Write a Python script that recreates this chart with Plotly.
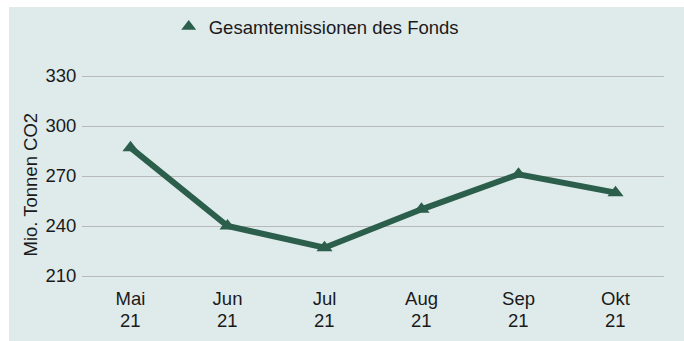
import plotly.graph_objects as go

months = ["Mai", "Jun", "Jul", "Aug", "Sep", "Okt"]
years = ["21", "21", "21", "21", "21", "21"]
emissions = [287, 240, 227, 250, 271, 260]
y_ticks = [210, 240, 270, 300, 330]

series_name = "Gesamtemissionen des Fonds"
y_title = "Mio. Tonnen CO2"
line_color = "#2b5e4b"
panel_color = "#dfeaea"
font_family = "Liberation Sans, Arial, Helvetica, sans-serif"
font_size = 18.5

fig = go.Figure()

# the emissions line itself
fig.add_trace(go.Scatter(
    x=months,
    y=emissions,
    mode="lines+markers",
    name=series_name,
    showlegend=False,
    line=dict(color=line_color, width=6),
    marker=dict(symbol="triangle-up", size=14, color=line_color),
))

# legend entry shows the triangle symbol only
fig.add_trace(go.Scatter(
    x=[None], y=[None],
    mode="markers",
    name=series_name,
    marker=dict(symbol="triangle-up", size=13, color=line_color),
))

# second row of category labels (year under each month)
for m, yr in zip(months, years):
    fig.add_annotation(
        x=m, xref="x", y=-0.2015, yref="paper",
        text=yr, showarrow=False, yanchor="middle", xanchor="center",
        font=dict(size=font_size, family=font_family, color="#1a1a1a"),
    )

# vertical axis title
fig.add_annotation(
    x=-0.0893, xref="paper", y=0.4587, yref="paper",
    text=y_title, textangle=-90, showarrow=False,
    xanchor="center", yanchor="middle",
    font=dict(size=font_size, family=font_family, color="#1a1a1a"),
)

# light panel behind the whole chart, leaving a thin white edge top and left
fig.add_shape(
    type="rect", xref="paper", yref="paper",
    x0=-0.1254, x1=1.05, y0=-0.4, y1=1.3204,
    fillcolor=panel_color, line=dict(width=0), layer="below",
)

fig.update_layout(
    width=684, height=341,
    margin=dict(l=82, r=20, t=73, b=62, autoexpand=False),
    paper_bgcolor="white",
    plot_bgcolor="rgba(0,0,0,0)",
    font=dict(family=font_family, size=font_size, color="#1a1a1a"),
    showlegend=True,
    legend=dict(
        orientation="h", x=0.149, xanchor="left", y=1.2233, yanchor="middle",
        bgcolor="rgba(0,0,0,0)", font=dict(size=font_size),
    ),
    xaxis=dict(
        type="category", range=[-0.5, 5.5],
        showgrid=False, zeroline=False, showline=False,
        ticks="outside", ticklen=3, tickcolor="rgba(0,0,0,0)",
    ),
    yaxis=dict(
        range=[208.2, 331.8], tickvals=y_ticks,
        showgrid=True, gridcolor="#b9b9b9", gridwidth=1,
        zeroline=False, showline=False,
        ticks="outside", ticklen=1, tickcolor="rgba(0,0,0,0)",
    ),
)

fig.write_html("out.html")
